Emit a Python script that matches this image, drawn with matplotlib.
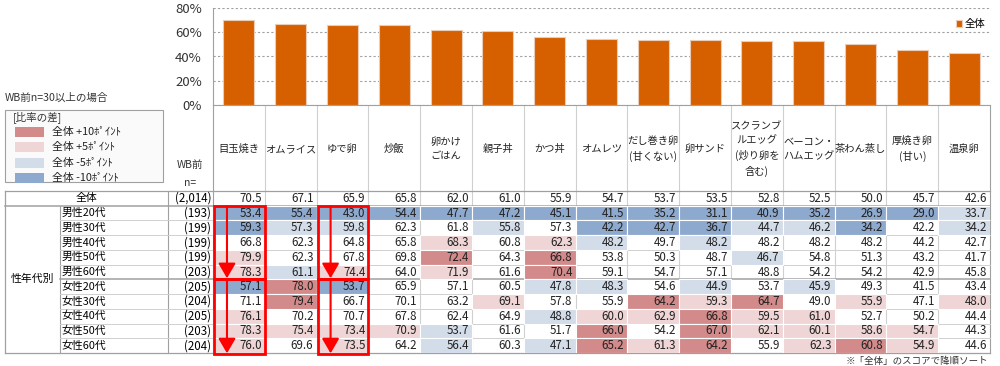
import numpy as np
import matplotlib.pyplot as plt
from matplotlib.patches import Rectangle
from matplotlib.transforms import blended_transform_factory

plt.rcParams['font.family'] = ['Noto Sans CJK JP', 'DejaVu Sans']

# --- data ---
dishes = ['目玉焼き', 'オムライス', 'ゆで卵', '炒飯', '卵かけ\nごはん', '親子丼', 'かつ丼',
          'オムレツ', 'だし巻き卵\n(甘くない)', '卵サンド', 'スクランブ\nルエッグ\n(炒り卵を\n含む)',
          'ベーコン・\nハムエッグ', '茶わん蒸し', '厚焼き卵\n(甘い)', '温泉卵']
overall = [70.5, 67.1, 65.9, 65.8, 62.0, 61.0, 55.9, 54.7, 53.7, 53.5, 52.8, 52.5, 50.0, 45.7, 42.6]
overall_n = '(2,014)'

groups = ['男性20代', '男性30代', '男性40代', '男性50代', '男性60代',
          '女性20代', '女性30代', '女性40代', '女性50代', '女性60代']
group_n = [193, 199, 199, 199, 203, 205, 204, 205, 203, 204]
scores = [
    [53.4, 55.4, 43.0, 54.4, 47.7, 47.2, 45.1, 41.5, 35.2, 31.1, 40.9, 35.2, 26.9, 29.0, 33.7],
    [59.3, 57.3, 59.8, 62.3, 61.8, 55.8, 57.3, 42.2, 42.7, 36.7, 44.7, 46.2, 34.2, 42.2, 34.2],
    [66.8, 62.3, 64.8, 65.8, 68.3, 60.8, 62.3, 48.2, 49.7, 48.2, 48.2, 48.2, 48.2, 44.2, 42.7],
    [79.9, 62.3, 67.8, 69.8, 72.4, 64.3, 66.8, 53.8, 50.3, 48.7, 46.7, 54.8, 51.3, 43.2, 41.7],
    [78.3, 61.1, 74.4, 64.0, 71.9, 61.6, 70.4, 59.1, 54.7, 57.1, 48.8, 54.2, 54.2, 42.9, 45.8],
    [57.1, 78.0, 53.7, 65.9, 57.1, 60.5, 47.8, 48.3, 54.6, 44.9, 53.7, 45.9, 49.3, 41.5, 43.4],
    [71.1, 79.4, 66.7, 70.1, 63.2, 69.1, 57.8, 55.9, 64.2, 59.3, 64.7, 49.0, 55.9, 47.1, 48.0],
    [76.1, 70.2, 70.7, 67.8, 62.4, 64.9, 48.8, 60.0, 62.9, 66.8, 59.5, 61.0, 52.7, 50.2, 44.4],
    [78.3, 75.4, 73.4, 70.9, 53.7, 61.6, 51.7, 66.0, 54.2, 67.0, 62.1, 60.1, 58.6, 54.7, 44.3],
    [76.0, 69.6, 73.5, 64.2, 56.4, 60.3, 47.1, 65.2, 61.3, 64.2, 55.9, 62.3, 60.8, 54.9, 44.6],
]
legend_labels = ['全体 +10ﾎﾟｲﾝﾄ', '全体 +5ﾎﾟｲﾝﾄ', '全体 -5ﾎﾟｲﾝﾄ', '全体 -10ﾎﾟｲﾝﾄ']
highlight_cols = [0, 2]

BAR = '#D65F00'
C_UP2, C_UP1, C_DN1, C_DN2 = '#D28A8A', '#EFD5D5', '#D3DCE9', '#8EA9CE'
GRID = '#D0D0D0'
DARK = '#A0A0A0'


def cell_color(v, base):
    d = v - base
    if d >= 10:
        return C_UP2
    if d >= 5:
        return C_UP1
    if d <= -10:
        return C_DN2
    if d <= -5:
        return C_DN1
    return None


W, H = 1000, 366
X0, X1 = 213, 990
T0, T1 = 191, 353
ncol = len(dishes)
nrow = len(groups) + 1
colw = (X1 - X0) / ncol
rowh = (T1 - T0) / nrow


def px(x0, y0, x1, y1):
    return [x0 / W, 1 - y1 / H, (x1 - x0) / W, (y1 - y0) / H]


fig = plt.figure(figsize=(10, 3.66), dpi=100)
ov = fig.add_axes([0, 0, 1, 1])
ov.set_xlim(0, W)
ov.set_ylim(H, 0)
ov.axis('off')

# --- bar chart ---
ax = fig.add_axes(px(X0, 8, X1, 105))
ax.bar(np.arange(ncol), overall, width=0.6, color=BAR, edgecolor='#E9CDB9',
       linewidth=0.8, label='全体', zorder=3)
ax.set_xlim(-0.5, ncol - 0.5)
ax.set_ylim(0, 80)
ax.set_yticks([0, 20, 40, 60, 80])
ax.set_yticklabels([f'{v}%' for v in [0, 20, 40, 60, 80]], fontsize=9.5, color='#333333')
ax.yaxis.grid(True, ls=(0, (2, 2)), color='#A0A0A0', lw=0.8)
ax.set_xticks(np.arange(ncol + 1) - 0.5)
ax.set_xticklabels([])
ax.tick_params(axis='x', length=0)
ax.tick_params(axis='y', length=0, pad=8)
for s in ['top', 'right']:
    ax.spines[s].set_visible(False)
ax.spines['left'].set_color(DARK)
ax.spines['bottom'].set_color(DARK)
ax.legend(loc='upper right', bbox_to_anchor=(1.0, 0.93), frameon=False, fontsize=7.5,
          handlelength=0.6, handleheight=0.6, handletextpad=0.3, borderaxespad=0)

# --- table ---
tb = fig.add_axes(px(X0, T0, X1, T1))
tb.set_xlim(0, ncol)
tb.set_ylim(nrow, 0)
tb.axis('off')
bt = blended_transform_factory(ov.transData, tb.transData)

for c in range(ncol):
    tb.text(c + 0.5, -2.85, dishes[c], ha='center', va='center', fontsize=7.4,
            linespacing=1.5, color='#222222', clip_on=False)
    tb.text(c + 0.94, 0.5, f'{overall[c]:.1f}', ha='right', va='center', fontsize=8.3,
            color='#222222')
    for r in range(len(groups)):
        v = scores[r][c]
        col = cell_color(v, overall[c])
        if col:
            tb.add_patch(Rectangle((c, r + 1), 1, 1, facecolor=col, edgecolor='white',
                                   lw=0.8, zorder=2))
        tb.text(c + 0.94, r + 1.5, f'{v:.1f}', ha='right', va='center', fontsize=8.3,
                color='#222222', zorder=4)

# grid lines
for k in range(ncol + 1):
    x = X0 + k * colw
    ov.plot([x, x], [105, T1], color=DARK if k in (0, ncol) else GRID, lw=0.8, zorder=1)
for r in range(1, nrow):
    y = T0 + r * rowh
    x_start = 5 if r == 1 else 60
    strong = r in (1, 6)
    ov.plot([x_start, X1], [y, y], color=DARK if strong else GRID, lw=1.1 if strong else 0.7,
            zorder=3)
ov.plot([5, X1], [T0, T0], color=DARK, lw=0.9)
ov.plot([5, X1], [T1, T1], color=DARK, lw=0.9)
ov.plot([5, 5], [T0, T1], color=DARK, lw=0.9)
ov.plot([60, 60], [T0 + rowh, T1], color=DARK, lw=0.8)
ov.plot([168, 168], [T0, T1], color=DARK, lw=0.8)

# row headers
ov.text(190, 165, 'WB前', ha='center', va='center', fontsize=7.5, color='#333333')
ov.text(190, 183, 'n=', ha='center', va='center', fontsize=7.5, color='#333333')
tb.text(86, 0.5, '全体', transform=bt, ha='center', va='center', fontsize=7.8, clip_on=False)
tb.text(211, 0.5, overall_n, transform=bt, ha='right', va='center', fontsize=8.3, clip_on=False)
tb.text(32, 1 + len(groups) / 2, '性年代別', transform=bt, ha='center', va='center',
        fontsize=7.8, clip_on=False)
for r, g in enumerate(groups):
    tb.text(62, r + 1.5, g, transform=bt, ha='left', va='center', fontsize=7.8, clip_on=False)
    tb.text(211, r + 1.5, f'({group_n[r]})', transform=bt, ha='right', va='center',
            fontsize=8.3, clip_on=False)

# red boxes and arrows
for c in highlight_cols:
    for r0, r1 in [(1.04, 6.0), (6.0, 11.1)]:
        tb.add_patch(Rectangle((c + 0.02, r0), 0.98, r1 - r0, fill=False, edgecolor='red',
                               lw=2.0, zorder=5, clip_on=False))
        tb.annotate('', xy=(c + 0.27, r1 - 0.08), xytext=(c + 0.27, r0),
                    arrowprops=dict(arrowstyle='-|>,head_length=0.6,head_width=0.35',
                                    color='red', lw=1.5, mutation_scale=15,
                                    shrinkA=0, shrinkB=0),
                    zorder=5, annotation_clip=False)

# legend box
ov.text(5, 98, 'WB前n=30以上の場合', ha='left', va='center', fontsize=7.6, color='#333333')
ov.add_patch(Rectangle((5, 110), 158, 72, facecolor='#FAFAFA', edgecolor=DARK, lw=0.8))
ov.text(13, 117, '[比率の差]', ha='left', va='center', fontsize=7.6, color='#333333')
for i, (lab, col) in enumerate(zip(legend_labels, [C_UP2, C_UP1, C_DN1, C_DN2])):
    y = 132 + i * 15.3
    ov.add_patch(Rectangle((15, y - 5), 29, 10, facecolor=col, edgecolor='none'))
    ov.text(52, y, lab, ha='left', va='center', fontsize=7.8, color='#222222')

ov.text(988, 361, '※「全体」のスコアで降順ソート', ha='right', va='center', fontsize=6.8,
        color='#333333')

fig.savefig('out.png', dpi=100)
